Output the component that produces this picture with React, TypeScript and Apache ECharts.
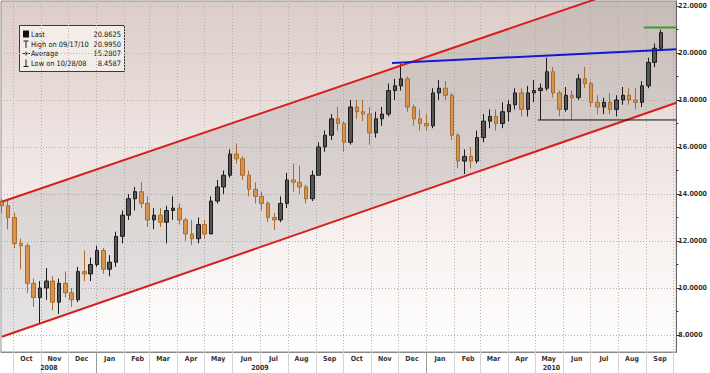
import React, { useEffect, useRef } from 'react';
import * as echarts from 'echarts';

// Weekly candles (week-ending Fridays)
const weekDates = [
  '2008-09-19','2008-09-26','2008-10-03','2008-10-10','2008-10-17','2008-10-24','2008-10-31','2008-11-07','2008-11-14','2008-11-21',
  '2008-11-28','2008-12-05','2008-12-12','2008-12-19','2008-12-26','2009-01-02','2009-01-09','2009-01-16','2009-01-23','2009-01-30',
  '2009-02-06','2009-02-13','2009-02-20','2009-02-27','2009-03-06','2009-03-13','2009-03-20','2009-03-27','2009-04-03','2009-04-10',
  '2009-04-17','2009-04-24','2009-05-01','2009-05-08','2009-05-15','2009-05-22','2009-05-29','2009-06-05','2009-06-12','2009-06-19',
  '2009-06-26','2009-07-03','2009-07-10','2009-07-17','2009-07-24','2009-07-31','2009-08-07','2009-08-14','2009-08-21','2009-08-28',
  '2009-09-04','2009-09-11','2009-09-18','2009-09-25','2009-10-02','2009-10-09','2009-10-16','2009-10-23','2009-10-30','2009-11-06',
  '2009-11-13','2009-11-20','2009-11-27','2009-12-04','2009-12-11','2009-12-18','2009-12-25','2010-01-01','2010-01-08','2010-01-15',
  '2010-01-22','2010-01-29','2010-02-05','2010-02-12','2010-02-19','2010-02-26','2010-03-05','2010-03-12','2010-03-19','2010-03-26',
  '2010-04-02','2010-04-09','2010-04-16','2010-04-23','2010-04-30','2010-05-07','2010-05-14','2010-05-21','2010-05-28','2010-06-04',
  '2010-06-11','2010-06-18','2010-06-25','2010-07-02','2010-07-09','2010-07-16','2010-07-23','2010-07-30','2010-08-06','2010-08-13',
  '2010-08-20','2010-08-27','2010-09-03','2010-09-10','2010-09-17',
];

const opens = [
  13.7,13.5,13.0,11.9,11.8,10.2,9.6,10.0,10.3,9.4,
  10.2,9.8,9.5,10.7,10.6,11.0,11.6,10.8,11.1,12.2,
  13.1,13.8,14.1,13.6,12.9,13.1,12.8,13.3,13.4,12.9,
  12.3,12.1,12.7,12.3,13.7,14.3,14.8,15.7,15.5,14.8,
  14.2,13.9,13.6,13.0,12.9,13.6,14.6,14.5,14.3,13.8,
  14.8,16.0,16.5,17.2,17.0,16.2,17.7,17.5,17.4,16.6,
  17.2,17.4,18.4,18.6,18.9,17.7,17.2,17.0,16.9,18.3,
  18.5,18.2,16.5,15.4,15.6,15.4,16.4,17.1,17.3,17.0,
  17.5,17.8,18.3,17.6,18.3,18.4,18.5,19.2,18.3,17.6,
  18.2,18.1,18.9,18.7,17.9,17.7,17.9,17.6,18.0,18.2,
  18.0,17.9,18.6,19.6,20.2,
];
const highs = [
  13.8,13.7,13.2,12.1,11.9,10.4,10.3,10.85,10.5,10.4,
  10.7,10.0,10.9,11.6,11.3,11.8,11.7,11.4,12.4,13.3,
  14.0,14.3,14.5,13.9,13.4,13.4,13.5,13.9,13.6,13.0,
  12.9,13.0,12.9,13.9,14.6,15.0,15.9,16.15,15.6,15.0,
  14.5,14.1,13.7,13.2,13.9,14.9,15.3,15.2,14.4,15.0,
  16.2,16.7,17.4,17.7,17.1,18.0,18.0,18.0,17.7,17.5,
  17.7,18.7,18.9,19.55,19.0,17.8,17.6,17.4,18.5,18.85,
  18.8,18.3,16.6,15.9,16.0,16.7,17.4,17.6,17.6,17.9,
  18.0,18.5,18.5,18.6,18.85,18.7,19.8,19.4,18.4,18.55,
  18.4,19.1,19.4,18.8,18.2,18.1,18.3,18.2,18.55,18.5,
  18.5,18.8,19.8,20.4,20.995,
];
const lows = [
  13.2,12.5,11.7,10.8,9.8,9.2,8.46,9.5,9.05,8.9,
  9.6,9.2,9.4,10.3,10.3,10.9,10.6,10.5,10.9,11.9,
  12.9,13.3,13.4,12.6,12.5,12.6,11.9,12.9,12.7,12.0,
  11.83,11.9,12.1,12.3,13.6,14.0,14.7,15.3,14.6,13.9,
  13.6,13.3,12.8,12.47,12.8,13.4,14.1,14.0,13.6,13.7,
  14.8,15.8,16.3,16.7,15.8,16.1,17.2,17.1,16.1,16.4,
  16.9,17.3,18.0,18.4,17.5,16.9,16.7,16.7,16.8,18.0,
  18.0,16.3,15.1,14.85,15.1,15.3,16.2,16.8,16.7,16.8,
  17.1,17.6,17.3,17.3,17.9,17.15,18.4,18.1,17.3,17.5,
  17.15,18.0,18.5,17.7,17.4,17.4,17.4,17.3,17.8,17.8,
  17.6,17.7,18.5,19.4,20.1,
];
const closes = [
  13.5,13.0,11.9,11.8,10.2,9.6,10.0,10.3,9.4,10.2,
  9.8,9.5,10.7,10.6,11.0,11.6,10.8,11.1,12.2,13.1,
  13.8,14.1,13.6,12.9,13.1,12.8,13.3,13.4,12.9,12.3,
  12.1,12.7,12.3,13.7,14.3,14.8,15.7,15.5,14.8,14.2,
  13.9,13.6,13.0,12.9,13.6,14.6,14.5,14.3,13.8,14.8,
  16.0,16.5,17.2,17.0,16.2,17.7,17.5,17.4,16.6,17.2,
  17.4,18.4,18.6,18.9,17.7,17.2,17.0,16.9,18.3,18.5,
  18.2,16.5,15.4,15.6,15.4,16.4,17.1,17.3,17.0,17.5,
  17.8,18.3,17.6,18.3,18.4,18.5,19.2,18.3,17.6,18.2,
  18.1,18.9,18.7,17.9,17.7,17.9,17.6,18.0,18.2,18.0,
  17.9,18.6,19.6,20.2,20.8625,
];

// Trend lines [date, price]
const channelUpper: [string, number][] = [['2008-09-19', 13.67], ['2010-10-04', 23.46]];
const channelLower: [string, number][] = [['2008-09-19', 7.93], ['2010-10-04', 17.88]];
const resistanceLine: [string, number][] = [['2009-11-24', 19.57], ['2010-10-04', 20.16]];
const supportLine: [string, number][] = [['2010-05-04', 17.15], ['2010-10-04', 17.15]];
const highLine: [string, number][] = [['2010-08-29', 21.08], ['2010-10-04', 21.08]];

const legendLabels = ['Last', 'High on 09/17/10', 'Average', 'Low on 10/28/08'];
const legendValues = ['20.8625', '20.9950', '15.2807', '8.4587'];
const lastPrice = 20.8625;

const yMajorTicks = [8, 10, 12, 14, 16, 18, 20, 22];
const yMinorTicks = [9, 11, 13, 15, 17, 19, 21];
const monthNames = ['Jan','Feb','Mar','Apr','May','Jun','Jul','Aug','Sep','Oct','Nov','Dec'];
const yearLabelDates = ['2008-11-10', '2009-07-01', '2010-05-19'];
const yearBreakDates = ['2009-01-01', '2010-01-01'];

const FONT = '"DejaVu Sans Condensed", "DejaVu Sans", sans-serif';
const Y_MIN = 7.28;
const Y_MAX = 22.21;

const t = (s: string) => new Date(s + 'T00:00:00').getTime();

const App = () => {
  const ref = useRef<HTMLDivElement>(null);
  useEffect(() => {
    const chart = echarts.init(ref.current!, null, { renderer: 'svg' });
    const xMin = t('2008-09-18');
    const xMax = t('2010-10-04');

    const monthStarts: number[] = [];
    const monthMids: number[] = [];
    for (let y = 2008; y <= 2010; y++) {
      for (let m = 0; m < 12; m++) {
        const s = new Date(y, m, 1).getTime();
        const mid = new Date(y, m, 16).getTime();
        if (s > xMin && s < xMax) monthStarts.push(s);
        if (mid > xMin && mid < xMax) monthMids.push(mid);
      }
    }

    const candleData = weekDates.map((d, i) => [t(d), opens[i], closes[i], lows[i], highs[i]]);
    const lineData = (arr: [string, number][]) => arr.map(([d, v]) => [t(d), v]);

    const lineSeries = (arr: [string, number][], color: string, width: number) => ({
      type: 'line',
      xAxisIndex: 0,
      yAxisIndex: 0,
      data: lineData(arr),
      symbol: 'none',
      lineStyle: { color, width },
      silent: true,
      z: 4,
      clip: true,
    });

    const legendRowY = [34, 44, 53.5, 63];
    const legendEls: any[] = [
      {
        type: 'rect',
        shape: { x: 19.5, y: 25.5, width: 105, height: 46 },
        style: { fill: 'rgba(244,239,236,0.92)', stroke: '#3a3a3a', lineWidth: 1 },
      },
      { type: 'rect', shape: { x: 23, y: 30.5, width: 6, height: 7 }, style: { fill: '#111' } },
      { type: 'line', shape: { x1: 26, y1: 41, x2: 26, y2: 48 }, style: { stroke: '#222', lineWidth: 1 } },
      { type: 'line', shape: { x1: 23.5, y1: 41, x2: 28.5, y2: 41 }, style: { stroke: '#222', lineWidth: 1 } },
      { type: 'line', shape: { x1: 22.5, y1: 53.5, x2: 30, y2: 53.5 }, style: { stroke: '#222', lineWidth: 1 } },
      { type: 'line', shape: { x1: 26, y1: 51.5, x2: 26, y2: 55.5 }, style: { stroke: '#222', lineWidth: 1 } },
      { type: 'line', shape: { x1: 26, y1: 59.5, x2: 26, y2: 66.5 }, style: { stroke: '#222', lineWidth: 1 } },
      { type: 'line', shape: { x1: 23.5, y1: 66.5, x2: 28.5, y2: 66.5 }, style: { stroke: '#222', lineWidth: 1 } },
    ];
    legendLabels.forEach((lab, i) => {
      legendEls.push({
        type: 'text',
        style: { text: lab, x: 31, y: legendRowY[i], fill: '#111', fontSize: 7.4, fontFamily: FONT, verticalAlign: 'middle', align: 'left' },
      });
      legendEls.push({
        type: 'text',
        style: { text: legendValues[i], x: 121, y: legendRowY[i], fill: '#111', fontSize: 7.4, fontFamily: FONT, verticalAlign: 'middle', align: 'right' },
      });
    });

    const option: any = {
      animation: false,
      grid: {
        left: 1,
        right: 33,
        top: 1,
        bottom: 21,
        show: true,
        borderColor: '#8f8f8f',
        borderWidth: 1,
        backgroundColor: new echarts.graphic.LinearGradient(0, 0, 0, 1, [
          { offset: 0, color: '#dccdc7' },
          { offset: 0.4, color: '#ede3e0' },
          { offset: 0.7, color: '#f8f2f1' },
          { offset: 1, color: '#ffffff' },
        ]),
      },
      xAxis: [
        {
          type: 'value',
          min: xMin,
          max: xMax,
          position: 'bottom',
          axisLine: { show: true, onZero: false, lineStyle: { color: '#8a8a8a' } },
          axisTick: { show: true, length: 21, customValues: monthStarts, lineStyle: { color: '#d4d4d4' } },
          axisLabel: {
            customValues: monthMids,
            formatter: (v: number) => monthNames[new Date(v).getMonth()],
            fontSize: 7,
            fontWeight: 'bold',
            fontFamily: FONT,
            color: '#333',
            margin: 3,
            hideOverlap: false,
            showMinLabel: true,
            showMaxLabel: true,
          },
          splitLine: { show: true, lineStyle: { color: '#b9b1ae', type: [1, 2], width: 1 } },
        },
        {
          type: 'value',
          min: xMin,
          max: xMax,
          position: 'bottom',
          axisLine: { show: false, onZero: false },
          axisTick: { show: true, length: 21, customValues: yearBreakDates.map(t), lineStyle: { color: '#999' } },
          axisLabel: {
            customValues: yearLabelDates.map(t),
            formatter: (v: number) => String(new Date(v).getFullYear()),
            fontSize: 7,
            fontWeight: 'bold',
            fontFamily: FONT,
            color: '#333',
            margin: 12,
            hideOverlap: false,
            showMinLabel: true,
            showMaxLabel: true,
          },
          splitLine: { show: false },
        },
      ],
      yAxis: [
        {
          type: 'value',
          position: 'right',
          min: Y_MIN,
          max: Y_MAX,
          axisLine: { show: true, onZero: false, lineStyle: { color: '#666' } },
          axisTick: { show: true, length: 4, customValues: yMajorTicks, lineStyle: { color: '#333' } },
          axisLabel: {
            customValues: yMajorTicks,
            formatter: (v: number) => v.toFixed(4),
            fontSize: 7,
            fontWeight: 'bold',
            fontFamily: FONT,
            color: '#333',
            margin: 2,
          },
          splitLine: { show: true, lineStyle: { color: '#b9b1ae', type: [1, 2], width: 1 } },
        },
        {
          type: 'value',
          position: 'right',
          min: Y_MIN,
          max: Y_MAX,
          axisLine: { show: false, onZero: false },
          axisTick: { show: true, length: 2, customValues: yMinorTicks, lineStyle: { color: '#333' } },
          axisLabel: { show: false },
          splitLine: { show: false },
        },
      ],
      series: [
        {
          type: 'custom',
          xAxisIndex: 0,
          yAxisIndex: 0,
          clip: true,
          silent: true,
          z: 1,
          data: [[t(channelLower[0][0]), channelLower[0][1]]],
          renderItem: (_params: any, api: any) => {
            const pts = [
              api.coord([t(channelLower[0][0]), channelLower[0][1]]),
              api.coord([t(channelLower[1][0]), channelLower[1][1]]),
              api.coord([t(channelUpper[1][0]), channelUpper[1][1]]),
              api.coord([t(channelUpper[0][0]), channelUpper[0][1]]),
            ];
            return {
              type: 'polygon',
              shape: { points: pts },
              style: { fill: 'rgba(118,118,118,0.19)' },
            };
          },
        },
        {
          type: 'candlestick',
          xAxisIndex: 0,
          yAxisIndex: 0,
          data: candleData,
          barWidth: 4,
          z: 3,
          itemStyle: {
            color: '#555555',
            borderColor: '#1c1c1c',
            color0: '#d6944e',
            borderColor0: '#a86c30',
            borderWidth: 1,
          },
          markLine: {
            silent: true,
            symbol: ['none', 'none'],
            lineStyle: { opacity: 0 },
            data: [{ yAxis: lastPrice }],
            label: {
              show: true,
              position: 'end',
              distance: 2,
              formatter: lastPrice.toFixed(4),
              color: '#fff',
              backgroundColor: '#000',
              padding: [1, 2, 1, 2],
              fontSize: 7,
              fontWeight: 'bold',
              fontFamily: FONT,
            },
          },
        },
        lineSeries(channelUpper, '#d81e1e', 2),
        lineSeries(channelLower, '#d81e1e', 2),
        lineSeries(resistanceLine, '#1616d6', 2),
        lineSeries(supportLine, '#111111', 1),
        lineSeries(highLine, '#3c9a2c', 2),
      ],
      graphic: legendEls,
    };
    chart.setOption(option);
    return () => chart.dispose();
  }, []);
  return (
    <div
      ref={ref}
      style={{ position: 'fixed', left: 0, top: 0, width: 710, height: 373, background: '#fff' }}
    />
  );
};

export default App;
